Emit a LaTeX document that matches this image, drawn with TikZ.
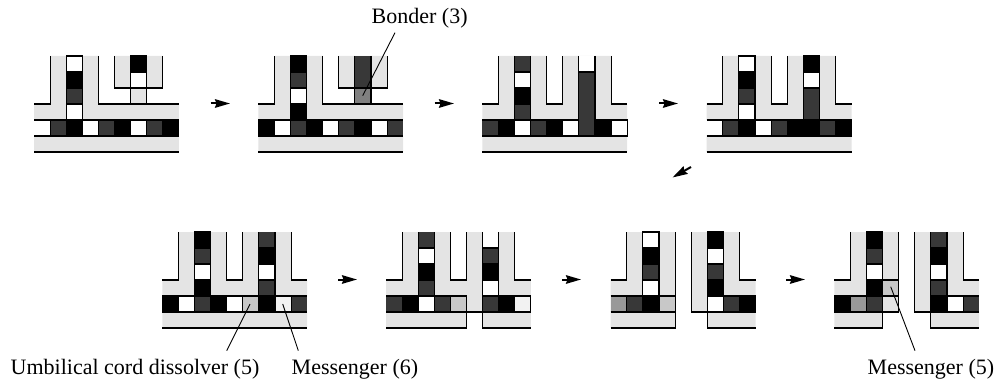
\documentclass[tikz,border=0pt]{standalone}
\usepackage{fontspec}
\setmainfont{Liberation Serif}
\usetikzlibrary{arrows.meta}
\definecolor{mem}{HTML}{E4E4E4}
\definecolor{D}{HTML}{383838}
\definecolor{M}{HTML}{999999}
\definecolor{MB}{HTML}{808080}
\definecolor{L}{HTML}{C8C8C8}
\definecolor{W}{HTML}{F2F2F2}
\tikzset{
  cellbox/.style={draw=black,line width=1.1pt},
  ln/.style={draw=black,line width=1.1pt},
  panelgrid/.style={x=16.1pt,y=-16pt},
  flow/.style={draw=black,line width=2pt,-{Stealth[length=15pt,width=8.5pt,inset=1.5pt]}},
  leader/.style={draw=black,line width=0.9pt},
  lab/.style={font=\fontsize{22}{24}\selectfont,inner sep=0pt,anchor=base west}
}
\newcommand\vcells[3]{\foreach \cc [count=\ii from #2] in {#3} {\path[cellbox,fill=\cc] (#1,\ii) rectangle +(1,1);}}
\newcommand\hcells[3]{\foreach \cc [count=\ii from #1] in {#3} {\path[cellbox,fill=\cc] (\ii,#2) rectangle +(1,1);}}
\newcommand\plainc[3]{\fill[#3] (#1,#2) rectangle +(1,1);}
\newcommand\topplain[2]{\fill[#2] (#1,0) rectangle +(1,1); \draw[ln] (#1,0) -- +(0,1) (#1+1,0) -- +(0,1);}
\begin{document}
\begin{tikzpicture}[x=1pt,y=-1pt]
\useasboundingbox (0,0) rectangle (1000,382);
% panel 1
\begin{scope}[shift={(34,56)},panelgrid]
\fill[mem] (0,3) rectangle (9,4) (0,5) rectangle (9,6) (1,0) rectangle (4,3) (5,0) rectangle (8,2);
\hcells{1}{4}{D,black,white,D,black,white,D,black}
\vcells{2}{0}{white,black,D,white}
\vcells{6}{0}{black,white,mem}
\draw[ln] (0,3) -- (1,3) -- (1,0) (4,0) -- (4,3) -- (9,3) (5,0) -- (5,2) -- (8,2) -- (8,0) (0,4) -- (9,4) (0,5) -- (9,5) (0,6) -- (9,6);
\end{scope}
% panel 2
\begin{scope}[shift={(258.3,56)},panelgrid]
\fill[mem] (0,3) rectangle (9,4) (0,5) rectangle (9,6) (1,0) rectangle (4,3) (5,0) rectangle (8,2);
\plainc{8}{4}{D}
\hcells{0}{4}{black,white,D,black,white,D,black,white}
\vcells{2}{0}{black,D,white,black}
\fill[D] (6,0) rectangle (7,2);
\draw[ln] (6,0) -- (6,2) (7,0) -- (7,2);
\vcells{6}{2}{MB}
\draw[ln] (0,3) -- (1,3) -- (1,0) (4,0) -- (4,3) -- (9,3) (5,0) -- (5,2) -- (8,2) -- (8,0) (0,4) -- (9,4) (0,5) -- (9,5) (0,6) -- (9,6);
\end{scope}
% panel 3
\begin{scope}[shift={(482.3,56)},panelgrid]
\fill[mem] (0,3) rectangle (9,4) (0,5) rectangle (9,6) (1,0) rectangle (4,3) (5,0) rectangle (8,3);
\plainc{0}{4}{D}
\hcells{1}{4}{black,white,D,black,white}
\hcells{7}{4}{black,white}
\topplain{2}{D}
\vcells{2}{1}{white,black,D}
\topplain{6}{white}
\path[cellbox,fill=D] (6,1) rectangle (7,5);
\draw[ln] (0,3) -- (1,3) -- (1,0) (4,0) -- (4,3) -- (5,3) -- (5,0) (8,0) -- (8,3) -- (9,3) (0,4) -- (6,4) (7,4) -- (9,4) (0,5) -- (9,5) (0,6) -- (9,6);
\end{scope}
% panel 4
\begin{scope}[shift={(706.7,56)},panelgrid]
\fill[mem] (0,3) rectangle (9,4) (0,5) rectangle (9,6) (1,0) rectangle (4,3) (5,0) rectangle (8,3);
\hcells{1}{4}{D,black,white,D,black,black,D,black}
\vcells{2}{0}{white,black,D,white}
\vcells{6}{0}{black,white}
\path[cellbox,fill=D] (6,2) rectangle (7,4);
\draw[ln] (0,3) -- (1,3) -- (1,0) (4,0) -- (4,3) -- (5,3) -- (5,0) (8,0) -- (8,3) -- (9,3) (0,4) -- (9,4) (0,5) -- (9,5) (0,6) -- (9,6);
\end{scope}
% panel 5
\begin{scope}[shift={(162.3,232)},panelgrid]
\fill[mem] (0,3) rectangle (9,4) (0,5) rectangle (9,6) (1,0) rectangle (4,3) (5,0) rectangle (8,3);
\plainc{8}{4}{D}
\hcells{0}{4}{black,white,D,black,white,L,black,W}
\vcells{2}{0}{black,D,white,black}
\topplain{6}{D}
\vcells{6}{1}{black,white,D}
\draw[ln] (0,3) -- (1,3) -- (1,0) (4,0) -- (4,3) -- (5,3) -- (5,0) (8,0) -- (8,3) -- (9,3) (0,4) -- (9,4) (0,5) -- (9,5) (0,6) -- (9,6);
\end{scope}
% panel 6
\begin{scope}[shift={(386,232)},panelgrid]
\fill[mem] (0,3) rectangle (9,4) (1,0) rectangle (4,3) (5,0) rectangle (8,3) (5,4) rectangle (6,5) (0,5) rectangle (5,6) (6,5) rectangle (9,6);
\plainc{0}{4}{D}
\hcells{1}{4}{black,white,D,L}
\hcells{6}{4}{D,black,W}
\topplain{2}{D}
\vcells{2}{1}{white,black,D}
\topplain{6}{white}
\vcells{6}{1}{D,black,white}
\draw[ln] (0,3) -- (1,3) -- (1,0) (4,0) -- (4,3) -- (5,3) -- (5,0) (8,0) -- (8,3) -- (9,3) (0,4) -- (5,4) -- (5,6) -- (0,6) (0,5) -- (6,5) (6,4) -- (9,4) (6,4) -- (6,6) -- (9,6) (6,5) -- (9,5);
\end{scope}
% panel 7
\begin{scope}[shift={(610.7,232)},panelgrid]
\fill[mem] (0,3) rectangle (4,6) (1,0) rectangle (4,3) (5,0) rectangle (8,3) (5,3) rectangle (9,4) (5,4) rectangle (6,5) (6,5) rectangle (9,6);
\plainc{0}{4}{M}
\hcells{1}{4}{D,black,L}
\vcells{2}{0}{white,black,D,white}
\hcells{7}{4}{D,black}
\vcells{6}{0}{black,white,D,black,white}
\draw[ln] (0,3) -- (1,3) -- (1,0) (4,0) -- (4,6) -- (0,6) (0,4) -- (4,4) (0,5) -- (4,5) (5,0) -- (5,5) -- (6,5) (6,4) -- (6,6) -- (9,6) (6,4) -- (9,4) (6,5) -- (9,5) (8,0) -- (8,3) -- (9,3);
\end{scope}
% panel 8
\begin{scope}[shift={(834.3,232)},panelgrid]
\fill[mem] (0,3) rectangle (4,5) (0,5) rectangle (3,6) (1,0) rectangle (4,3) (5,0) rectangle (8,3) (5,3) rectangle (9,4) (5,4) rectangle (6,5) (6,5) rectangle (9,6);
\hcells{0}{4}{black,M,D,mem}
\vcells{2}{0}{black,D,white,black}
\vcells{3}{3}{L}
\plainc{8}{4}{D}
\hcells{7}{4}{white}
\topplain{6}{D}
\vcells{6}{1}{black,white,D,black}
\draw[ln] (0,3) -- (1,3) -- (1,0) (4,0) -- (4,5) -- (3,5) -- (3,6) -- (0,6) (0,4) -- (3,4) (0,5) -- (3,5) (5,0) -- (5,5) -- (6,5) (6,4) -- (6,6) -- (9,6) (6,4) -- (9,4) (6,5) -- (9,5) (8,0) -- (8,3) -- (9,3);
\end{scope}
% arrows between panels
\coordinate (a1s) at (210.5,103.5); \coordinate (a1e) at (230,103.5);
\coordinate (a2s) at (434.5,103.5); \coordinate (a2e) at (454,103.5);
\coordinate (a3s) at (659,103.5); \coordinate (a3e) at (678,103.5);
\coordinate (a4s) at (691,167); \coordinate (a4e) at (672.5,177.5);
\coordinate (a5s) at (338,279.5); \coordinate (a5e) at (357,279.5);
\coordinate (a6s) at (562,279.5); \coordinate (a6e) at (581,279.5);
\coordinate (a7s) at (786,279.5); \coordinate (a7e) at (805,279.5);
\foreach \ss/\ee in {a1s/a1e,a2s/a2e,a3s/a3e,a4s/a4e,a5s/a5e,a6s/a6e,a7s/a7e} \draw[flow] (\ss) -- (\ee);
% labels
\node[lab] (bonder) at (371.5,23.5) {Bonder (3)};
\node[lab] (umb) at (10.5,374.5) {Umbilical cord dissolver (5)};
\node[lab] (mess6) at (291.5,374.5) {Messenger (6)};
\node[lab] (mess5) at (867.5,374.5) {Messenger (5)};
\coordinate (bondertop) at (395,32.7); \coordinate (bonderend) at (362.7,95.7);
\coordinate (umbtop) at (226.7,350.7); \coordinate (umbend) at (250,304);
\coordinate (m6top) at (298.3,350.7); \coordinate (m6end) at (282.7,304);
\coordinate (m5top) at (915,350.7); \coordinate (m5end) at (890.7,286.7);
\draw[leader] (bondertop) -- (bonderend);
\draw[leader] (umbtop) -- (umbend);
\draw[leader] (m6top) -- (m6end);
\draw[leader] (m5top) -- (m5end);
\end{tikzpicture}
\end{document}
